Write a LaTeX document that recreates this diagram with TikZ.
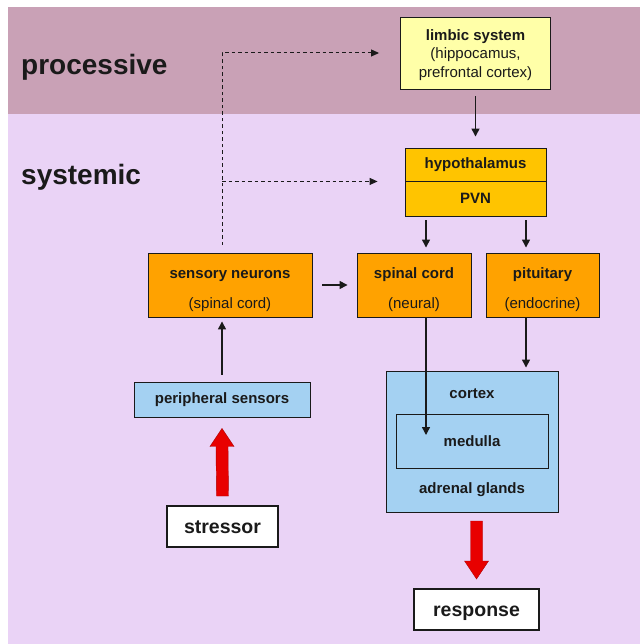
\documentclass[tikz,border=0pt]{standalone}
\usepackage{fontspec}
\setmainfont{Liberation Sans}
\usetikzlibrary{arrows.meta,calc}
\definecolor{procband}{HTML}{C9A1B6}
\definecolor{sysband}{HTML}{EAD3F6}
\definecolor{orangebox}{HTML}{FFA200}
\definecolor{goldbox}{HTML}{FFC400}
\definecolor{yellowbox}{HTML}{FFFFA8}
\definecolor{bluebox}{HTML}{A4D1F2}
\definecolor{redarrow}{HTML}{E80000}
\definecolor{ink}{HTML}{1A1A1A}
\newcommand{\toppad}{\rule{0pt}{20pt}}
\newcommand{\smallpad}{\rule{0pt}{15pt}}
\begin{document}
\begin{tikzpicture}[x=1pt,y=-1pt,
  box/.style={draw=ink, line width=0.9pt, inner sep=0pt, align=center, text=ink,
              font=\fontsize{15}{18.5}\selectfont\bfseries},
  obox/.style={box, fill=orangebox},
  gbox/.style={box, fill=goldbox},
  ybox/.style={box, fill=yellowbox},
  bbox/.style={box, fill=bluebox},
  wbox/.style={box, fill=white, line width=2pt, text height=14pt, text depth=0pt,
               font=\fontsize{19.5}{22}\selectfont\bfseries},
  lbl/.style={inner sep=0pt, text=ink, font=\fontsize{15}{18}\selectfont\bfseries},
  band/.style={anchor=base west, inner sep=0pt, text=ink, font=\fontsize{28}{30}\selectfont\bfseries},
  conn/.style={draw=ink, line width=1.4pt, -{Triangle[length=8pt,width=8pt]}},
  dconn/.style={draw=ink, line width=1pt, dash pattern=on 3.5pt off 3pt, -{Triangle[length=8pt,width=7pt]}},
  bigarrow/.style={fill=redarrow, draw=redarrow!75!black, line width=0.4pt}
]
\useasboundingbox (0,0) rectangle (640,644);
\fill[white] (0,0) rectangle (640,644);
\fill[sysband] (8,7) rectangle (640,644);
\fill[procband] (8,7) rectangle (640,114);

\node[band] (proc) at (21,75) {processive};
\node[band] (sys) at (21,185) {systemic};

\node[ybox, minimum width=150pt, minimum height=72pt] (limbic) at (475.5,53)
  {\smallpad limbic system\\{\mdseries (hippocamus,}\\{\mdseries prefrontal cortex)}};
\node[gbox, minimum width=141pt, minimum height=33pt] (hypo) at (475.5,164.5) {hypothalamus};
\node[gbox, minimum width=141pt, minimum height=35pt] (pvn) at (475.5,198.5) {PVN};

\node[obox, minimum width=164pt, minimum height=64pt] (sens) at (230,285)
  {\toppad sensory neurons\\[11.5pt]{\mdseries (spinal cord)}};
\node[obox, minimum width=114pt, minimum height=64pt] (spinal) at (414,285)
  {\toppad spinal cord\\[11.5pt]{\mdseries (neural)}};
\node[obox, minimum width=113pt, minimum height=64pt] (pit) at (542.5,285)
  {\toppad pituitary\\[11.5pt]{\mdseries (endocrine)}};

\node[bbox, minimum width=176pt, minimum height=35pt] (peri) at (222,399.5) {peripheral sensors};
\node[wbox, minimum width=111pt, minimum height=41pt] (stressor) at (222.5,526.5) {stressor};

\node[bbox, minimum width=172pt, minimum height=141pt] (adr) at (472,441.5) {};
\node[bbox, minimum width=152pt, minimum height=54pt] (med) at (472,441) {medulla};
\node[lbl] (cortexl) at (472,394) {cortex};
\node[lbl] (adrl) at (472,490) {adrenal glands};

\node[wbox, minimum width=125pt, minimum height=41pt] (resp) at (476.5,609.5) {response};

% fixed connector columns
\coordinate (ca) at (426,0);
\coordinate (cb) at (526,0);
\coordinate (medtip) at (426,435);
\coordinate (dc) at (222,245);

\draw[conn, shorten <=7pt, shorten >=11pt] (limbic.south) -- (limbic.south |- hypo.north);
\draw[conn, shorten <=4pt, shorten >=5pt] (pvn.south -| ca) -- (spinal.north -| ca);
\draw[conn, shorten <=4pt, shorten >=5pt] (pvn.south -| cb) -- (pit.north -| cb);
\draw[conn, shorten <=10pt, shorten >=9pt] (sens.east) -- (spinal.west);
\draw[conn, shorten <=1pt] (spinal.south -| ca) -- (medtip);
\draw[conn, shorten <=1pt, shorten >=3pt] (pit.south -| cb) -- (adr.north -| cb);
\draw[conn, shorten <=7pt, shorten >=4pt] (peri.north) -- (peri.north |- sens.south);

\draw[dconn] (dc) -- (dc |- limbic.west) -- ([xshift=-21pt]limbic.west);
\draw[dconn] (dc |- hypo.south) -- ([xshift=-27pt]hypo.south west);

% big red arrows
\coordinate (u0) at ($(stressor.north)+(0,-9)$);
\coordinate (u1) at ($(peri.south)+(0,11)$);
\draw[bigarrow] ($(u0)+(-6,0)$) -- ($(u1)+(-6,18)$) -- ($(u1)+(-12,18)$) -- (u1)
  -- ($(u1)+(12,18)$) -- ($(u1)+(6,18)$) -- ($(u0)+(6,0)$) -- cycle;
\coordinate (d0) at ($(resp.north)+(0,-67)$);
\coordinate (d1) at ($(resp.north)+(0,-9)$);
\draw[bigarrow] ($(d0)+(-6,0)$) -- ($(d1)+(-6,-18)$) -- ($(d1)+(-12,-18)$) -- (d1)
  -- ($(d1)+(12,-18)$) -- ($(d1)+(6,-18)$) -- ($(d0)+(6,0)$) -- cycle;
\end{tikzpicture}
\end{document}
